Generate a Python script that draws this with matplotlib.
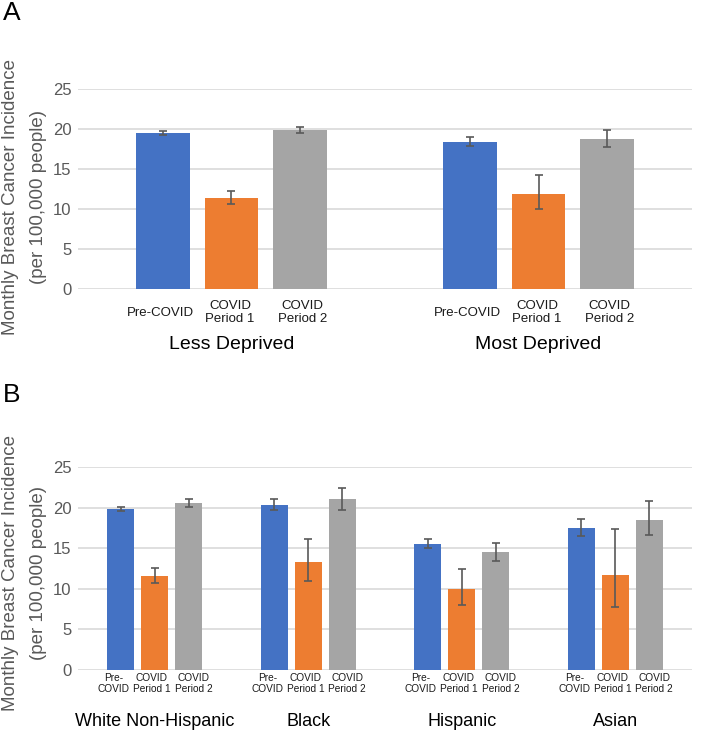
import numpy as np
import matplotlib
matplotlib.use('Agg')
import matplotlib.pyplot as plt

plt.rcParams['font.family'] = ['Liberation Sans', 'DejaVu Sans']

periods = ['Pre-COVID', 'COVID Period 1', 'COVID Period 2']
colors = ['#4472C4', '#ED7D31', '#A5A5A5']

# panel A: deprivation
groupsA = ['Less Deprived', 'Most Deprived']
labelsA = ['Pre-COVID', 'COVID\nPeriod 1', 'COVID\nPeriod 2']
valsA = [[19.5, 11.4, 19.9],
         [18.4, 11.9, 18.75]]
lowA = [[19.3, 10.6, 19.5],
        [17.9, 10.0, 17.7]]
highA = [[19.7, 12.3, 20.3],
         [19.0, 14.3, 19.9]]

# panel B: race / ethnicity
groupsB = ['White Non-Hispanic', 'Black', 'Hispanic', 'Asian']
labelsB = ['Pre-\nCOVID', 'COVID\nPeriod 1', 'COVID\nPeriod 2']
valsB = [[19.9, 11.6, 20.55],
         [20.35, 13.3, 21.1],
         [15.5, 10.0, 14.6],
         [17.5, 11.7, 18.5]]
lowB = [[19.65, 10.7, 20.1],
        [19.7, 11.0, 19.7],
        [15.0, 8.0, 13.5],
        [16.5, 7.8, 16.6]]
highB = [[20.15, 12.6, 21.1],
         [21.1, 16.1, 22.4],
         [16.1, 12.5, 15.7],
         [18.6, 17.35, 20.9]]

yticks = [0, 5, 10, 15, 20, 25]
W, H = 709, 738


def draw_panel(ax, groups, labels, vals, low, high, tick_fs, lab_off, lab_dx,
               group_fs, group_off):
    vals = np.array(vals)
    low = np.array(low)
    high = np.array(high)
    n = len(groups)
    for g in range(n):
        xs = 2.25 + 4.5 * g + np.arange(3) - 1
        for i in range(3):
            ax.bar(xs[i], vals[g, i], width=0.79, color=colors[i],
                   edgecolor='none', zorder=2)
            ax.errorbar(xs[i], vals[g, i],
                        yerr=[[vals[g, i] - low[g, i]], [high[g, i] - vals[g, i]]],
                        fmt='none', ecolor='#595959', elinewidth=1.2,
                        capsize=2.8, capthick=1.2, zorder=3)
            ax.annotate(labels[i], xy=(xs[i], 0), xycoords=('data', 'axes fraction'),
                        xytext=(lab_dx[i], -lab_off), textcoords='offset points',
                        ha='center', va='center', fontsize=tick_fs,
                        color='#1a1a1a', linespacing=1.15)
        ax.annotate(groups[g], xy=(xs[1], 0), xycoords=('data', 'axes fraction'),
                    xytext=(0, -group_off), textcoords='offset points',
                    ha='center', va='center', fontsize=group_fs, color='black')
    ax.set_xlim(0, 4.5 * n)
    ax.set_ylim(0, 25)
    ax.set_yticks(yticks)
    ax.set_xticks([])
    ax.yaxis.grid(True, color='#d9d9d9', linewidth=1.2, zorder=0)
    ax.set_axisbelow(True)
    for s in ax.spines.values():
        s.set_visible(False)
    ax.tick_params(axis='y', length=0, pad=4.5, labelsize=12, labelcolor='#595959')


fig = plt.figure(figsize=(W / 100, H / 100), dpi=100)

axA = fig.add_axes([78 / W, (H - 289) / H, 614 / W, 200 / H])
draw_panel(axA, groupsA, labelsA, valsA, lowA, highA, 9.5, 17, [-2, -1, 2], 14, 40)

axB = fig.add_axes([78 / W, (H - 670) / H, 614 / W, 202.7 / H])
draw_panel(axB, groupsB, labelsB, valsB, lowB, highB, 7.3, 10, [-5, -2, 3.5], 13, 37)

for yc in [197, 573]:
    fig.text(11 / W, 1 - yc / H, 'Monthly Breast Cancer Incidence', rotation=90,
             ha='center', va='center', fontsize=13.5, color='#595959')
    fig.text(39 / W, 1 - yc / H, '(per 100,000 people)', rotation=90,
             ha='center', va='center', fontsize=13.5, color='#595959')

fig.text(3 / W, 1 - 13 / H, 'A', ha='left', va='center', fontsize=19)
fig.text(3 / W, 1 - 395 / H, 'B', ha='left', va='center', fontsize=19)

fig.savefig('out.png', dpi=100, facecolor='white')
